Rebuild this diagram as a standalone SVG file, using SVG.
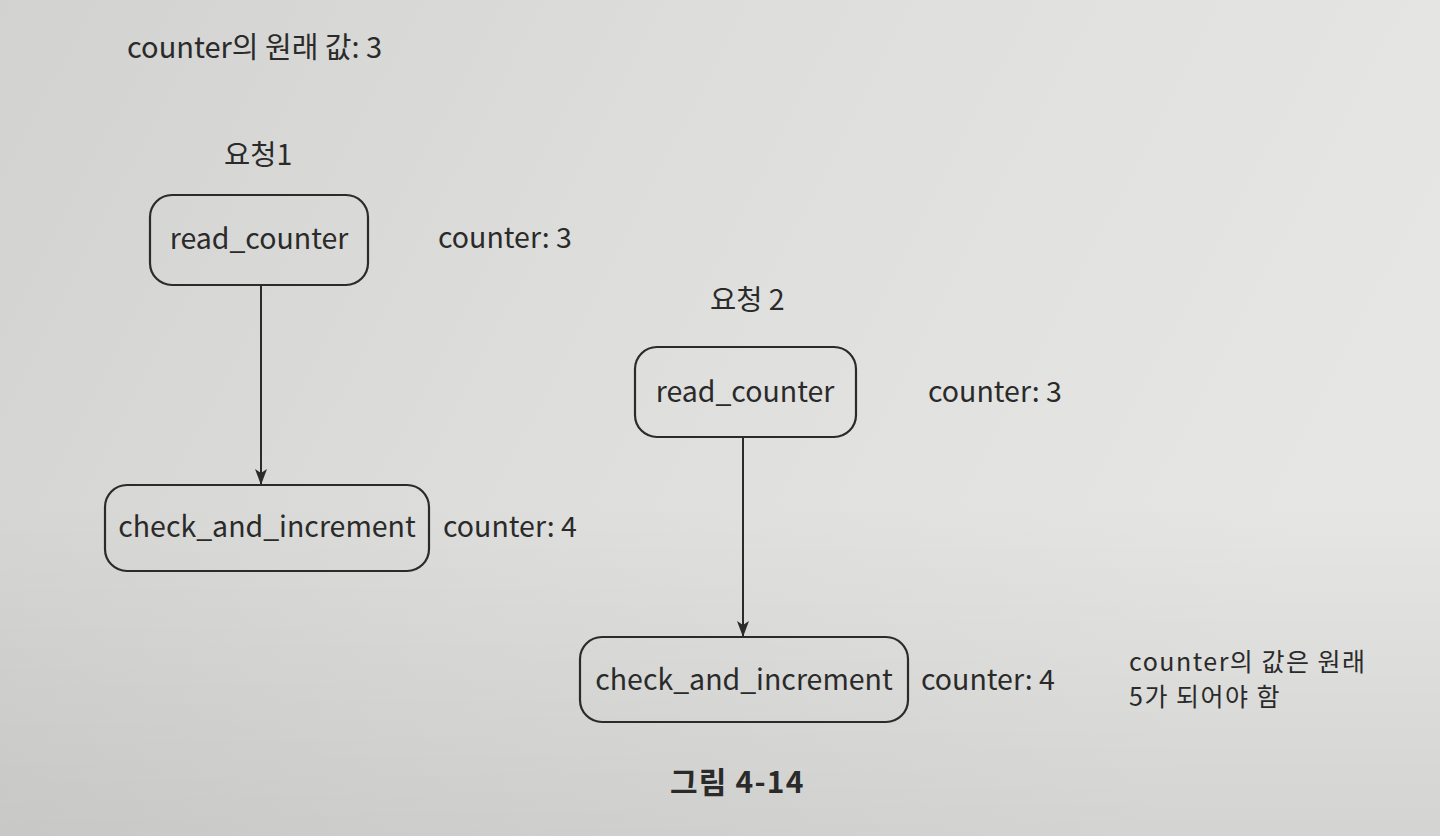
<svg xmlns="http://www.w3.org/2000/svg" width="1440" height="836" viewBox="0 0 1440 836">
<defs>
<linearGradient id="bg" x1="0" y1="0" x2="1" y2="0.3">
<stop offset="0" stop-color="#d2d2d0"/>
<stop offset="0.5" stop-color="#dededc"/>
<stop offset="1" stop-color="#e6e6e4"/>
</linearGradient>
<linearGradient id="shade" x1="0" y1="0" x2="0" y2="1">
<stop offset="0.6" stop-color="#000" stop-opacity="0"/>
<stop offset="1" stop-color="#000" stop-opacity="0.08"/>
</linearGradient>
<marker id="arr" viewBox="0 0 16 12" refX="16" refY="6" markerWidth="16" markerHeight="12" markerUnits="userSpaceOnUse" orient="auto">
<path d="M0,0 L16,6 L0,12 L4,6 Z" fill="#2b2b2b"/>
</marker>
<style>
text{font-family:"Noto Sans CJK KR","Noto Sans",sans-serif;fill:#2a2a2a}
.lbl{font-size:28.5px}
.big{font-size:29px}
.note{font-size:25px;letter-spacing:1.5px}
.box{fill:none;stroke:#2b2b2b;stroke-width:2.2}
.edge{stroke:#2b2b2b;stroke-width:2;fill:none}
.cap{font-size:30px;font-weight:700;letter-spacing:1.2px}
</style>
</defs>
<rect width="1440" height="836" fill="url(#bg)"/>
<rect width="1440" height="836" fill="url(#shade)"/>

<text class="big" x="127" y="58">counter의 원래 값: 3</text>
<text class="lbl" x="224" y="165">요청1</text>
<text class="lbl" x="710" y="310">요청 2</text>

<g id="connectors">
<line class="edge" x1="261" y1="285" x2="261" y2="485" marker-end="url(#arr)"/>
<line class="edge" x1="743" y1="437" x2="743" y2="637" marker-end="url(#arr)"/>
</g>

<g id="r1-read">
<rect class="box" x="150" y="195" width="218" height="90" rx="22"/>
<text class="lbl" x="259" y="249" text-anchor="middle">read_counter</text>
</g>
<g id="r1-check">
<rect class="box" x="105" y="485" width="324" height="86" rx="22"/>
<text class="lbl" x="267" y="537" text-anchor="middle">check_and_increment</text>
</g>
<g id="r2-read">
<rect class="box" x="635" y="347" width="221" height="90" rx="22"/>
<text class="lbl" x="745" y="402" text-anchor="middle">read_counter</text>
</g>
<g id="r2-check">
<rect class="box" x="580" y="637" width="328" height="85" rx="22"/>
<text class="lbl" x="744" y="690" text-anchor="middle">check_and_increment</text>
</g>

<text class="lbl" x="438" y="248">counter: 3</text>
<text class="lbl" x="443" y="537">counter: 4</text>
<text class="lbl" x="928" y="402">counter: 3</text>
<text class="lbl" x="921" y="690">counter: 4</text>

<text class="note" x="1129" y="671">counter의 값은 원래</text>
<text class="note" x="1129" y="706">5가 되어야 함</text>

<text class="cap" x="670" y="793">그림 4-14</text>
</svg>
